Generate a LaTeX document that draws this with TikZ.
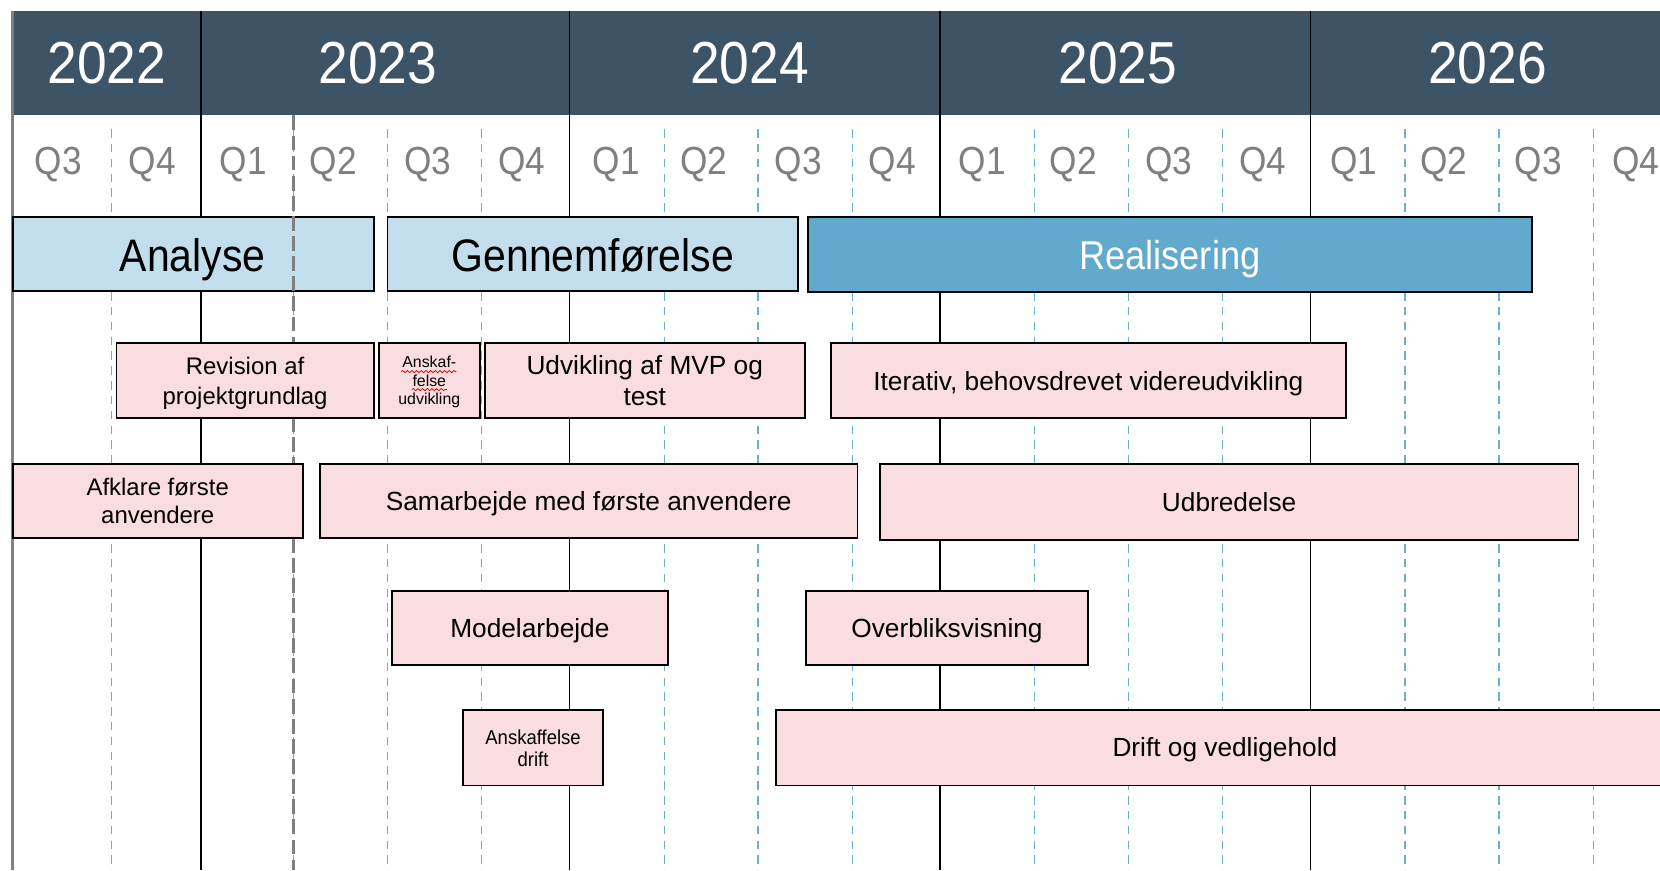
\documentclass[tikz,border=0pt]{standalone}
\usepackage{fontspec}
\setmainfont{Liberation Sans}
\newfontfamily\hfont[FakeStretch=0.9]{Liberation Sans}
\newfontfamily\narrowfont[FakeStretch=0.92]{Liberation Sans}
\usetikzlibrary{fit,decorations.pathmorphing}
\definecolor{hdr}{HTML}{3D5366}
\definecolor{lblue}{HTML}{C2DEEC}
\definecolor{mblue}{HTML}{62A9CE}
\definecolor{pinkc}{HTML}{F9DDE0}
\definecolor{qgrey}{HTML}{7F7F7F}
\definecolor{qdash}{HTML}{6AAED6}
\begin{document}
\begin{tikzpicture}[x=0.5pt,y=-0.5pt,
  qline/.style={draw=qdash, line width=0.6pt, dash pattern=on 4pt off 3pt},
  yline/.style={draw=black, line width=0.75pt},
  gline/.style={draw=qgrey, line width=1.3pt, dash pattern=on 7pt off 2.5pt},
  yearlbl/.style={text=white, font=\hfont\fontsize{28}{30}\selectfont},
  qlbl/.style={text=qgrey, font=\hfont\fontsize{18.5}{20}\selectfont},
  phasebox/.style={draw=black, line width=0.9pt, fill=lblue, inner sep=0pt},
  phaselbl/.style={inner sep=0pt, text depth=0pt, font=\hfont\fontsize{21.5}{24}\selectfont},
  actbox/.style={draw=black, line width=0.9pt, fill=pinkc, inner sep=0pt},
  actlbl/.style={inner sep=0pt, text depth=0pt, align=center, font=\fontsize{12.4}{14.5}\selectfont},
  squig/.style={draw=red!85!black, line width=0.35pt,
    decorate, decoration={snake, amplitude=0.5pt, segment length=2.2pt}}
]
\useasboundingbox (0,0) rectangle (1568,822);
\clip (0,0) rectangle (1568,822);
\fill[white] (0,0) rectangle (1568,822);
% header band
\fill[hdr] (12,10) rectangle (1600,109);
% quarter grid lines
\foreach \x in {105,277,366,455,628,716,805,977,1066,1155,1327,1416,1505}
  \draw[qline] (\x,122) -- (\x,822);
% year lines
\foreach \x in {190,538,888,1238}
  \draw[yline] (\x,10) -- (\x,822);
\draw[draw=gray, line width=1.2pt] (12,10) -- (12,822);
% year labels
\node[yearlbl] (y22) at (101,60) {2022};
\node[yearlbl] (y23) at (357,60) {2023};
\node[yearlbl] (y24) at (708,60) {2024};
\node[yearlbl] (y25) at (1056,60) {2025};
\node[yearlbl] (y26) at (1405,60) {2026};
% quarter labels
\foreach \x/\q [count=\i] in {55/Q3,144/Q4,230/Q1,315/Q2,404/Q3,493/Q4,582/Q1,665/Q2,754/Q3,843/Q4,928/Q1,1014/Q2,1104/Q3,1193/Q4,1279/Q1,1364/Q2,1453/Q3,1545/Q4}
  \node[qlbl] (q\i) at (\x,155) {\q};
% phases
\node[phasebox, fit={(12,205)(353,275)}] (analyse) {};
\node[phaselbl] at (182,241) {Analyse};
\node[phasebox, fit={(366,205)(754,275)}] (gennem) {};
\node[phaselbl] at (560,241) {Gennemførelse};
\node[phasebox, fill=mblue, fit={(763,205)(1447,276)}] (real) {};
\node[phaselbl, text=white, font=\hfont\fontsize{19}{22}\selectfont] at (1105,241) {Realisering};
% grey dashed milestone line
\draw[gline] (277,109) -- (277,822);
% activities
\node[actbox, fit={(110,324)(353,395)}] (rev) {};
\node[actlbl, font=\fontsize{11.3}{14}\selectfont] at (rev.center) {Revision af\\projektgrundlag};
\node[actbox, fit={(358,324)(453,395)}] (ansu) {};
\node[actlbl, font=\fontsize{7.5}{8.75}\selectfont] at (ansu.center) {Anskaf-\\felse\\udvikling};
\node[actbox, fit={(458,324)(760,395)}] (mvp) {};
\node[actlbl] at (mvp.center) {Udvikling af MVP og\\test};
\node[actbox, fit={(785,324)(1271,395)}] (iter) {};
\node[actlbl] at (iter.center) {Iterativ, behovsdrevet videreudvikling};
\node[actbox, fit={(12,438)(286,508)}] (afkl) {};
\node[actlbl, font=\fontsize{11.3}{13.5}\selectfont] at (afkl.center) {Afklare første\\anvendere};
\node[actbox, fit={(302,438)(810,508)}] (samar) {};
\node[actlbl] at (samar.center) {Samarbejde med første anvendere};
\node[actbox, fit={(831,438)(1491,510)}] (udbr) {};
\node[actlbl] at (udbr.center) {Udbredelse};
\node[actbox, fit={(370,558)(631,628)}] (model) {};
\node[actlbl] at (model.center) {Modelarbejde};
\node[actbox, fit={(761,558)(1028,628)}] (overb) {};
\node[actlbl] at (overb.center) {Overbliksvisning};
\node[actbox, fit={(437,671)(570,742)}] (ansd) {};
\node[actlbl, font=\narrowfont\fontsize{9.5}{10.5}\selectfont] at (ansd.center) {Anskaffelse\\drift};
\node[actbox, fit={(733,671)(1580,742)}] (drift) {};
\node[actlbl] (drifttxt) at (1157,706) {Drift og vedligehold};
% spell-check squiggles
\draw[squig] (379,351) -- (431,351);
\draw[squig] (389,368) -- (422,368);
\end{tikzpicture}
\end{document}
